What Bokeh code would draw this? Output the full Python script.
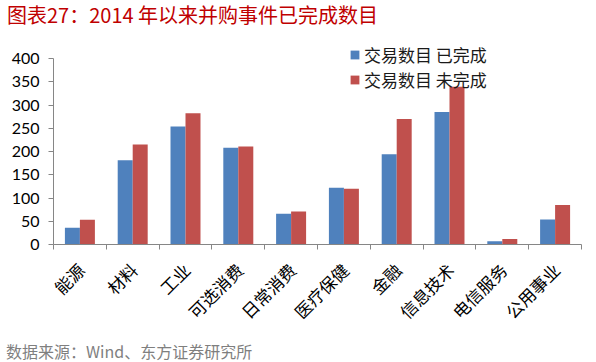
import math
from bokeh.plotting import figure
from bokeh.layouts import column
from bokeh.models import (Range1d, LinearAxis, FixedTicker, Div,
                          Legend, LegendItem, ColumnDataSource, CustomJSTickFormatter)
from bokeh.transform import dodge
from bokeh.embed import file_html
from bokeh.resources import INLINE

categories = ["能源", "材料", "工业", "可选消费", "日常消费", "医疗保健", "金融", "信息技术", "电信服务", "公用事业"]
completed = [36, 181, 254, 208, 66, 122, 194, 285, 7, 54]
pending = [53, 215, 282, 211, 71, 120, 270, 339, 12, 85]
y_ticks = [0, 50, 100, 150, 200, 250, 300, 350, 400]
series_names = ["交易数目 已完成", "交易数目 未完成"]
title_text = "图表27：2014 年以来并购事件已完成数目"
source_text = "数据来源：Wind、东方证券研究所"

BLUE = "#4F81BD"
RED = "#C0504D"
AXIS = "#868686"
CJK = "Noto Sans CJK SC"

W = 590
n = len(categories)
centers = [i + 0.5 for i in range(n)]
src = ColumnDataSource(dict(pos=centers, cat=categories, done=completed, todo=pending))

# frame: 208 px tall, value axis 0..400 occupies the lower 186 px
y_max = max(y_ticks)
y_top = y_max * 208 / 186

p = figure(width=W, height=304, x_range=Range1d(0, n), y_range=Range1d(0, y_top),
           x_axis_location=None, output_backend="svg", toolbar_location=None,
           min_border_left=53, min_border_right=9, min_border_top=0, min_border_bottom=96)
p.outline_line_color = None
p.xgrid.visible = False
p.ygrid.visible = False
p.background_fill_color = "white"
p.border_fill_color = "white"

bw = 0.284
r1 = p.vbar(x=dodge("pos", -bw / 2), top="done", width=bw, source=src,
            fill_color=BLUE, line_color=None)
r2 = p.vbar(x=dodge("pos", bw / 2), top="todo", width=bw, source=src,
            fill_color=RED, line_color=None)

# y axis
ya = p.yaxis[0]
ya.ticker = FixedTicker(ticks=y_ticks)
ya.bounds = (0, y_max)
ya.axis_line_color = AXIS
ya.major_tick_line_color = AXIS
ya.major_tick_out = 5
ya.major_tick_in = 0
ya.minor_tick_out = 0
ya.minor_tick_in = 0
ya.major_label_text_font = "Lato"
ya.major_label_text_font_size = "16px"
ya.major_label_text_color = "black"
ya.major_label_standoff = 9

# boundary tick axis
tick_axis = LinearAxis(ticker=FixedTicker(ticks=list(range(n + 1))),
                       formatter=CustomJSTickFormatter(code="return ''"),
                       major_tick_out=5, major_tick_in=0, minor_tick_out=0, minor_tick_in=0,
                       axis_line_color=AXIS, major_tick_line_color=AXIS,
                       major_label_standoff=0, major_label_text_font_size="1px")
p.add_layout(tick_axis, "below")

label_shift = 0.02
cat_axis = LinearAxis(ticker=FixedTicker(ticks=[c + label_shift for c in centers]),
                      formatter=CustomJSTickFormatter(args=dict(cats=categories),
                                                      code="return cats[Math.floor(tick)]"),
                      major_label_orientation=math.pi / 4, major_tick_out=0, major_tick_in=0,
                      minor_tick_out=0, minor_tick_in=0,
                      axis_line_color=None, major_tick_line_color=None,
                      major_label_text_font=CJK, major_label_text_font_size="17px",
                      major_label_text_color="black", major_label_standoff=17)
p.add_layout(cat_axis, "below")

legend = Legend(items=[LegendItem(label=series_names[0], renderers=[r1]),
                       LegendItem(label=series_names[1], renderers=[r2])],
                location=(296, 152), glyph_width=11, glyph_height=11, label_height=20,
                padding=0, spacing=0, margin=0, border_line_color=None,
                background_fill_alpha=0, label_text_font=CJK, label_text_font_size="17px",
                label_text_color="#1a1a1a", label_standoff=4)
p.add_layout(legend)

title_div = Div(text=title_text, width=W, height=36, margin=(0, 0, 0, 0),
                styles={"font-family": CJK, "font-size": "20px", "color": "#C00000",
                        "line-height": "24px", "padding-left": "7px", "padding-top": "3px",
                        "white-space": "nowrap"})
source_div = Div(text=source_text, width=W, height=18, margin=(0, 0, 0, 0),
                 styles={"font-family": CJK, "font-size": "16px", "color": "#7F7F7F",
                         "line-height": "20px", "padding-left": "6px", "padding-top": "1px",
                         "white-space": "nowrap"})

layout = column(title_div, p, source_div, spacing=0)
open("out.html", "w").write(file_html(layout, INLINE))
